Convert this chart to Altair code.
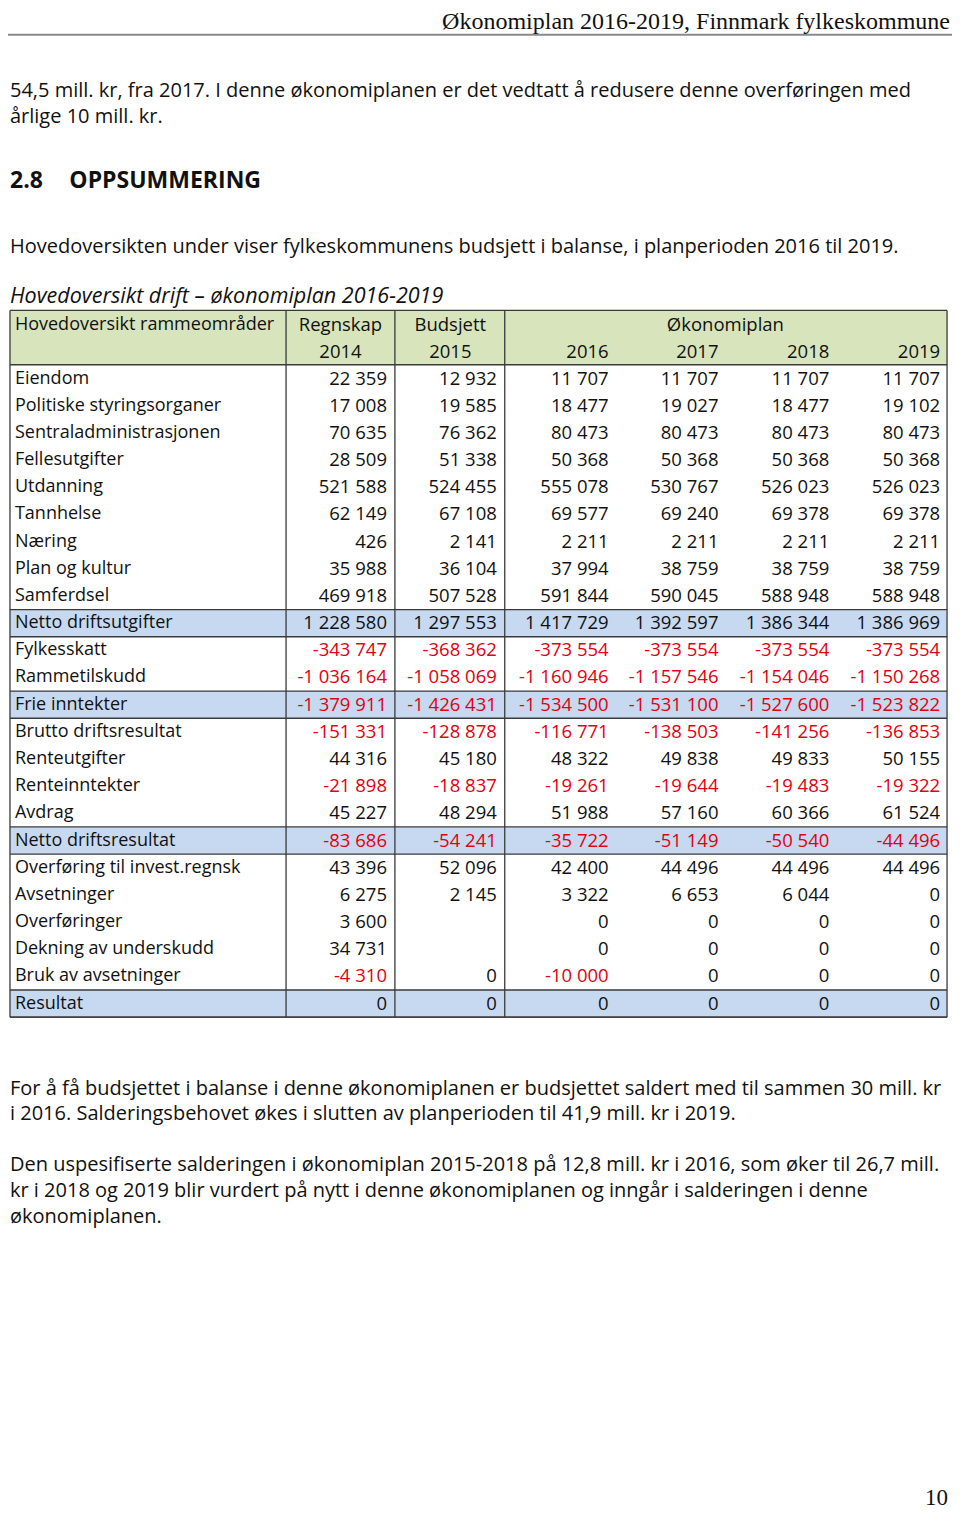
import altair as alt
import pandas as pd

# ---------------- data ----------------
rows = ["Eiendom", "Politiske styringsorganer", "Sentraladministrasjonen", "Fellesutgifter",
        "Utdanning", "Tannhelse", "Næring", "Plan og kultur", "Samferdsel",
        "Netto driftsutgifter", "Fylkesskatt", "Rammetilskudd", "Frie inntekter",
        "Brutto driftsresultat", "Renteutgifter", "Renteinntekter", "Avdrag",
        "Netto driftsresultat", "Overføring til invest.regnsk", "Avsetninger",
        "Overføringer", "Dekning av underskudd", "Bruk av avsetninger", "Resultat"]

r2014 = [22359, 17008, 70635, 28509, 521588, 62149, 426, 35988, 469918, 1228580,
         -343747, -1036164, -1379911, -151331, 44316, -21898, 45227, -83686,
         43396, 6275, 3600, 34731, -4310, 0]
b2015 = [12932, 19585, 76362, 51338, 524455, 67108, 2141, 36104, 507528, 1297553,
         -368362, -1058069, -1426431, -128878, 45180, -18837, 48294, -54241,
         52096, 2145, None, None, 0, 0]
p2016 = [11707, 18477, 80473, 50368, 555078, 69577, 2211, 37994, 591844, 1417729,
         -373554, -1160946, -1534500, -116771, 48322, -19261, 51988, -35722,
         42400, 3322, 0, 0, -10000, 0]
p2017 = [11707, 19027, 80473, 50368, 530767, 69240, 2211, 38759, 590045, 1392597,
         -373554, -1157546, -1531100, -138503, 49838, -19644, 57160, -51149,
         44496, 6653, 0, 0, 0, 0]
p2018 = [11707, 18477, 80473, 50368, 526023, 69378, 2211, 38759, 588948, 1386344,
         -373554, -1154046, -1527600, -141256, 49833, -19483, 60366, -50540,
         44496, 6044, 0, 0, 0, 0]
p2019 = [11707, 19102, 80473, 50368, 526023, 69378, 2211, 38759, 588948, 1386969,
         -373554, -1150268, -1523822, -136853, 50155, -19322, 61524, -44496,
         44496, 0, 0, 0, 0, 0]

sum_rows = ["Netto driftsutgifter", "Frie inntekter", "Netto driftsresultat", "Resultat"]

header_label = "Hovedoversikt rammeområder"
header_groups = ["Regnskap", "Budsjett", "Økonomiplan"]
header_years = ["2014", "2015", "2016", "2017", "2018", "2019"]

page_header = "Økonomiplan 2016-2019, Finnmark fylkeskommune"
para_top = ["54,5 mill. kr, fra 2017. I denne økonomiplanen er det vedtatt å redusere denne overføringen med",
            "årlige 10 mill. kr."]
section_no = "2.8"
section_title = "OPPSUMMERING"
para_intro = "Hovedoversikten under viser fylkeskommunens  budsjett i balanse, i planperioden 2016 til 2019."
table_title = "Hovedoversikt drift – økonomiplan 2016-2019"
para_bottom1 = ["For å få budsjettet i balanse i denne økonomiplanen er budsjettet saldert med til sammen 30 mill. kr",
                "i 2016. Salderingsbehovet økes i slutten av planperioden  til 41,9 mill. kr i 2019."]
para_bottom2 = ["Den uspesifiserte salderingen i økonomiplan 2015-2018 på 12,8 mill. kr i 2016, som øker til 26,7 mill.",
                "kr i 2018 og 2019 blir vurdert på nytt i denne økonomiplanen og inngår i salderingen i denne",
                "økonomiplanen."]
page_number = "10"

# ---------------- layout ----------------
W, H = 944, 1505
xs = alt.Scale(domain=[3, 957], nice=False, zero=False)
ys = alt.Scale(domain=[2, 1525], nice=False, zero=False, reverse=True)

X0, X1 = 5, 952
COL_SEP = [284, 394, 505]
NUM_RIGHT = [386, 497, 610, 721, 833, 945]
GROUP_CENTER = [339, 450, 728]
HEAD_TOP, HEAD_BOT = 308, 363
ROW0, PITCH = 377, 27.5
TABLE_BOT = ROW0 + (len(rows) - 1) * PITCH + PITCH / 2

RED = "#e3000f"
BLACK = "#111111"
GREEN = "#d7e4bc"
BLUE = "#c6d9f1"
LINE = "#3a3a3a"
TFONT = "Open Sans"
PFONT = "Open Sans"


def fmt(v):
    if v is None:
        return ""
    s = f"{abs(v):,}".replace(",", " ")
    return ("-" if v < 0 else "") + s


def enc_text(chart):
    return chart.encode(
        x=alt.X("x:Q", scale=xs, axis=None),
        y=alt.Y("y:Q", scale=ys, axis=None),
        text="text:N",
        color=alt.Color("color:N", scale=None),
    )


def text_layer(records, **kw):
    df = pd.DataFrame(records)
    if "color" not in df:
        df["color"] = BLACK
    base = dict(baseline="middle", align="left", font=TFONT, fontSize=18)
    base.update(kw)
    return enc_text(alt.Chart(df).mark_text(**base))


layers = []

# backgrounds
bg = [dict(x=X0, x2=X1, y=HEAD_TOP, y2=HEAD_BOT, fill=GREEN)]
for i, r in enumerate(rows):
    if r in sum_rows:
        yc = ROW0 + i * PITCH
        bg.append(dict(x=X0, x2=X1, y=yc - PITCH / 2, y2=yc + PITCH / 2, fill=BLUE))
layers.append(alt.Chart(pd.DataFrame(bg)).mark_rect().encode(
    x=alt.X("x:Q", scale=xs, axis=None), x2="x2:Q",
    y=alt.Y("y:Q", scale=ys, axis=None), y2="y2:Q",
    color=alt.Color("fill:N", scale=None)))

# table rules
hl = [HEAD_TOP, HEAD_BOT, TABLE_BOT]
for i, r in enumerate(rows):
    if r in sum_rows:
        yc = ROW0 + i * PITCH
        hl += [yc - PITCH / 2, yc + PITCH / 2]
rules = [dict(x=X0, x2=X1, y=v, y2=v) for v in hl]
rules += [dict(x=v, x2=v, y=HEAD_TOP, y2=TABLE_BOT) for v in [X0] + COL_SEP + [X1]]
layers.append(alt.Chart(pd.DataFrame(rules)).mark_rule(color=LINE, strokeWidth=1.3).encode(
    x=alt.X("x:Q", scale=xs, axis=None), x2="x2:Q",
    y=alt.Y("y:Q", scale=ys, axis=None), y2="y2:Q"))

# page header rule
layers.append(alt.Chart(pd.DataFrame([dict(x=3, x2=957, y=29, y2=29)])).mark_rule(
    color="#8a8a8a", strokeWidth=2).encode(
    x=alt.X("x:Q", scale=xs, axis=None), x2="x2:Q",
    y=alt.Y("y:Q", scale=ys, axis=None), y2="y2:Q"))

# table header text
layers.append(text_layer([dict(x=10, y=323, text=header_label)]))
layers.append(text_layer([dict(x=GROUP_CENTER[k], y=323, text=g) for k, g in enumerate(header_groups)],
                         align="center", fontSize=18.5))
layers.append(text_layer([dict(x=GROUP_CENTER[0], y=350, text=header_years[0]),
                          dict(x=GROUP_CENTER[1], y=350, text=header_years[1])],
                         align="center", fontSize=18.5))
layers.append(text_layer([dict(x=NUM_RIGHT[k], y=350, text=header_years[k]) for k in range(2, 6)],
                         align="right", fontSize=18.5))

# row labels
layers.append(text_layer([dict(x=10, y=ROW0 + i * PITCH, text=r) for i, r in enumerate(rows)]))

# numbers
nums = []
for k, col in enumerate([r2014, b2015, p2016, p2017, p2018, p2019]):
    for i, v in enumerate(col):
        if v is None:
            continue
        nums.append(dict(x=NUM_RIGHT[k], y=ROW0 + i * PITCH, text=fmt(v),
                         color=RED if v < 0 else BLACK))
layers.append(text_layer(nums, align="right", fontSize=18.5))

# page texts
layers.append(text_layer([dict(x=955, y=16, text=page_header)], align="right",
                         font="Liberation Serif", fontSize=24))
layers.append(text_layer([dict(x=5, y=86 + 26 * j, text=t) for j, t in enumerate(para_top)],
                         font=PFONT, fontSize=20))
layers.append(text_layer([dict(x=5, y=177, text=section_no), dict(x=65, y=177, text=section_title)],
                         font=PFONT, fontSize=23, fontWeight="bold"))
layers.append(text_layer([dict(x=5, y=244, text=para_intro)], font=PFONT, fontSize=20))
layers.append(text_layer([dict(x=5, y=294, text=table_title)], fontStyle="italic", fontSize=21.5))
layers.append(text_layer([dict(x=5, y=1096 + 25.5 * j, text=t) for j, t in enumerate(para_bottom1)],
                         font=PFONT, fontSize=20))
layers.append(text_layer([dict(x=5, y=1173 + 26 * j, text=t) for j, t in enumerate(para_bottom2)],
                         font=PFONT, fontSize=20))
layers.append(text_layer([dict(x=953, y=1510, text=page_number)], align="right",
                         font="Liberation Serif", fontSize=23))

chart = alt.layer(*layers).properties(
    width=W, height=H, padding=0, background="white",
    autosize=alt.AutoSizeParams(type="none"),
).configure_view(stroke=None)

chart.save("out.html", embed_options={"renderer": "svg", "actions": False})
